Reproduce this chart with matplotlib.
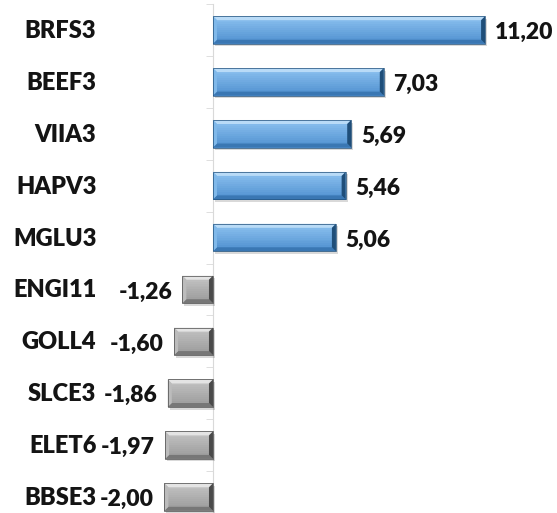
import numpy as np
import matplotlib.pyplot as plt
from matplotlib.patches import Polygon, Rectangle
from matplotlib.colors import to_rgb
import matplotlib.transforms as mtransforms

tickers = ['BRFS3', 'BEEF3', 'VIIA3', 'HAPV3', 'MGLU3',
           'ENGI11', 'GOLL4', 'SLCE3', 'ELET6', 'BBSE3']
values = [11.20, 7.03, 5.69, 5.46, 5.06, -1.26, -1.60, -1.86, -1.97, -2.00]

plt.rcParams['font.family'] = ['Lato', 'DejaVu Sans']

fig = plt.figure(figsize=(5.57, 5.13), dpi=100)
ax = fig.add_axes([100 / 557, -10 / 513, 457 / 557, 519 / 513])

xmin, xmax = -4.65, 14.16
ax.set_xlim(xmin, xmax)
ax.set_ylim(len(tickers) - 0.5, -0.5)

h = 0.53
# bevel size in data units (~4 px)
bx = 4 / 24.3
by = 4 / 51.9

pal = {
    'pos': dict(top='#8cc2f0', bot='#4f8fcf', light='#b9dbf7', left='#80b9ea',
                dark='#3a77b3', darker='#1f4e79'),
    'neg': dict(top='#c4c4c4', bot='#9a9a9a', light='#e4e4e4', left='#bcbcbc',
                dark='#777777', darker='#4a4a4a'),
}


def mix(a, b, t):
    a, b = np.array(to_rgb(a)), np.array(to_rgb(b))
    return tuple(a + (b - a) * t)


for i, v in enumerate(values):
    c = pal['pos'] if v > 0 else pal['neg']
    x0, x1 = min(0, v), max(0, v)
    yt, yb = i - h / 2, i + h / 2
    # soft shadow
    ax.add_patch(Rectangle((x0 + 0.08, yt + 0.05), x1 - x0, h,
                           facecolor='#000000', alpha=0.15, lw=0, zorder=2))
    # face gradient
    n = 14
    for k in range(n):
        ax.add_patch(Rectangle((x0, yt + h * k / n), x1 - x0, h / n + 0.002,
                               facecolor=mix(c['top'], c['bot'], k / (n - 1)),
                               lw=0, zorder=3))
    ax.add_patch(Polygon([(x0, yt), (x1, yt), (x1 - bx, yt + by), (x0 + bx, yt + by)],
                         facecolor=c['light'], lw=0, zorder=5))
    ax.add_patch(Polygon([(x0, yb), (x1, yb), (x1 - bx, yb - by), (x0 + bx, yb - by)],
                         facecolor=c['dark'], lw=0, zorder=5))
    ax.add_patch(Polygon([(x0, yt), (x0 + bx, yt + by), (x0 + bx, yb - by), (x0, yb)],
                         facecolor=c['left'], lw=0, zorder=5))
    ax.add_patch(Polygon([(x1, yt), (x1 - bx, yt + by), (x1 - bx, yb - by), (x1, yb)],
                         facecolor=c['darker'], lw=0, zorder=5))
    ax.add_patch(Rectangle((x0, yt), x1 - x0, h, facecolor='none',
                           edgecolor=c['darker'], lw=0.5, zorder=6))

    lbl = f'{v:.2f}'.replace('.', ',')
    if v > 0:
        ax.text(v + 0.4, i + 0.05, lbl, ha='left', va='center',
                fontsize=16.5, fontweight='heavy', color='#141414')
    else:
        ax.text(v - 0.42, i + 0.05, lbl, ha='right', va='center',
                fontsize=16.5, fontweight='heavy', color='#141414')

# category labels
trans = mtransforms.blended_transform_factory(ax.transAxes, ax.transData)
for i, t in enumerate(tickers):
    ax.text(-0.008, i + 0.02, t, transform=trans, ha='right', va='center',
            fontsize=17, fontweight='heavy', color='#141414')

# axis line at zero with tick marks between categories
for s in ['top', 'right', 'bottom']:
    ax.spines[s].set_visible(False)
ax.spines['left'].set_position(('data', 0))
ax.spines['left'].set_color('#d9d9d9')
ax.spines['left'].set_zorder(1)
ax.set_yticks([])
ax.set_yticks(np.arange(-0.5, len(tickers), 1), minor=True)
ax.tick_params(axis='y', which='minor', length=5, color='#d9d9d9', labelleft=False)
ax.set_xticks([])

fig.savefig('out.png', dpi=100)
